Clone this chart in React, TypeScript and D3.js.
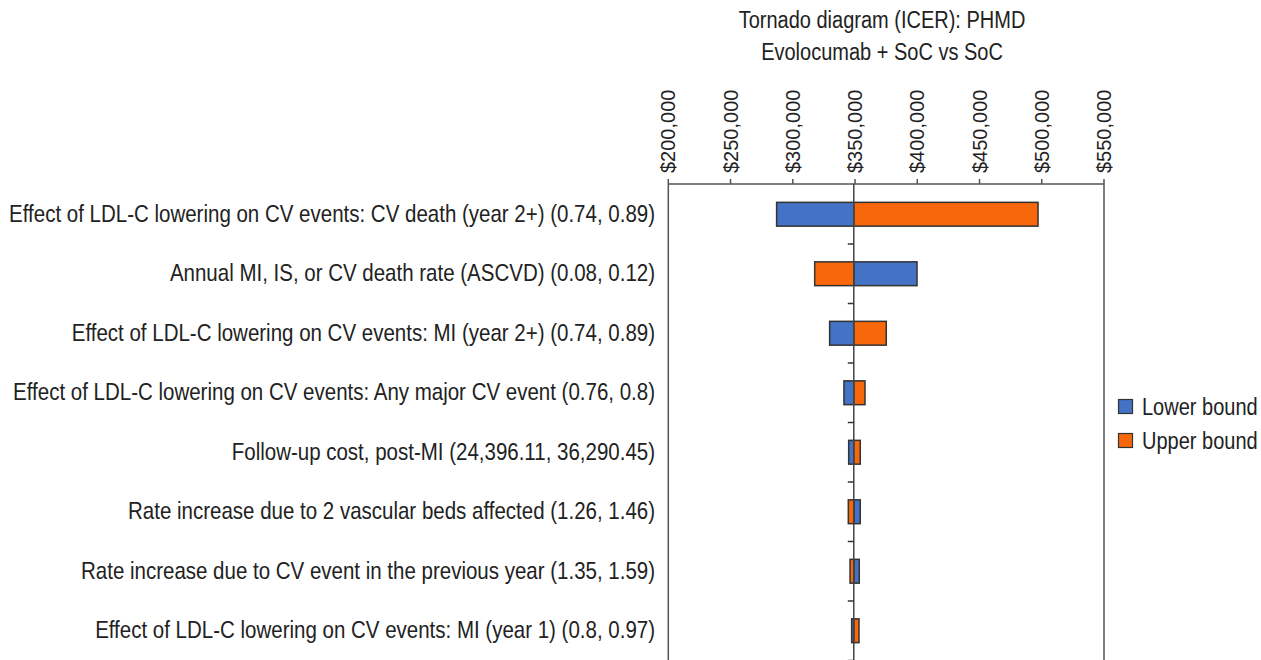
import React from "react";
import * as d3 from "d3";

const categories = [
  "Effect of LDL-C lowering on CV events: CV death (year 2+) (0.74, 0.89)",
  "Annual MI, IS, or CV death rate (ASCVD) (0.08, 0.12)",
  "Effect of LDL-C lowering on CV events: MI (year 2+) (0.74, 0.89)",
  "Effect of LDL-C lowering on CV events: Any major CV event (0.76, 0.8)",
  "Follow-up cost, post-MI (24,396.11, 36,290.45)",
  "Rate increase due to 2 vascular beds affected (1.26, 1.46)",
  "Rate increase due to CV event in the previous year (1.35, 1.59)",
  "Effect of LDL-C lowering on CV events: MI (year 1) (0.8, 0.97)",
];
const lowerBound = [287000, 399800, 329600, 341100, 344900, 354200, 353400, 347300];
const upperBound = [497000, 317600, 375100, 358000, 354200, 344600, 346000, 353200];
const baseCase = 349000;
const tickValues = [200000, 250000, 300000, 350000, 400000, 450000, 500000, 550000];
const titleLines = ["Tornado diagram (ICER): PHMD", "Evolocumab + SoC vs SoC"];
const seriesNames = ["Lower bound", "Upper bound"];
const colors = ["#4472C4", "#F8680A"];

export default function App() {
  const W = 1261, H = 660;
  const left = 668.3, right = 1104, top = 184, bottom = 660;
  const x = d3.scaleLinear().domain([200000, 550000]).range([left, right]);
  const y = d3.scaleBand<string>().domain(categories).range([top + 0.5, bottom + 0.5]).paddingInner(0.6).paddingOuter(0.3);
  const step = y.step();
  const bx = x(baseCase);
  const fmt = (v: number) => "$" + d3.format(",")(v);
  const font = "'Liberation Sans', Arial, Helvetica, sans-serif";
  const textColor = "#222";
  const lineColor = "#555";
  const sy = 1.15;

  const bar = (v: number, cat: string, color: string, key: string) => {
    const x0 = Math.min(x(v), bx), x1 = Math.max(x(v), bx);
    return (
      <rect key={key} x={x0} y={y(cat)!} width={x1 - x0} height={y.bandwidth()}
        fill={color} stroke="#333" strokeWidth={1.5} />
    );
  };

  return (
    <svg width={W} height={H} style={{ position: "absolute", left: 0, top: 0, background: "#fff" }} fontFamily={font}>
      {titleLines.map((t, i) => (
        <text key={t} transform={`translate(882,${28.3 + i * 32}) scale(1,${sy})`} textAnchor="middle" fontSize={20} fill={textColor}>{t}</text>
      ))}
      {tickValues.map((v) => (
        <g key={v}>
          <text transform={`translate(${x(v)},173) rotate(-90)`} dy="0.35em" textAnchor="start" fontSize={20} fill={textColor}>{fmt(v)}</text>
          <line x1={x(v)} x2={x(v)} y1={top - 5} y2={top} stroke={lineColor} strokeWidth={1.5} />
        </g>
      ))}
      <line x1={left} x2={right} y1={top} y2={top} stroke={lineColor} strokeWidth={1.5} />
      <line x1={left} x2={left} y1={top} y2={bottom} stroke={lineColor} strokeWidth={1.5} />
      <line x1={right} x2={right} y1={top} y2={bottom} stroke={lineColor} strokeWidth={1.5} />
      {categories.map((c, i) => (
        <g key={c}>
          {bar(lowerBound[i], c, colors[0], "l" + i)}
          {bar(upperBound[i], c, colors[1], "u" + i)}
          <text transform={`translate(655,${y(c)! + y.bandwidth() / 2 + 7.3}) scale(1,${sy})`} textAnchor="end" fontSize={20.5} fill={textColor}>{c}</text>
        </g>
      ))}
      <line x1={bx} x2={bx} y1={top} y2={bottom} stroke="#444" strokeWidth={1.5} />
      {categories.map((c, i) => (
        <line key={"t" + i} x1={bx - 6} x2={bx} y1={top + 0.5 + step * (i + 1)} y2={top + 0.5 + step * (i + 1)} stroke="#333" strokeWidth={1.5} />
      ))}
      {seriesNames.map((s, i) => (
        <g key={s}>
          <rect x={1118.5} y={399.5 + i * 34} width={14} height={14} fill={colors[i]} stroke="#333" strokeWidth={1.2} />
          <text transform={`translate(1142,${414.5 + i * 34}) scale(1,${sy})`} fontSize={20} fill={textColor}>{s}</text>
        </g>
      ))}
    </svg>
  );
}
